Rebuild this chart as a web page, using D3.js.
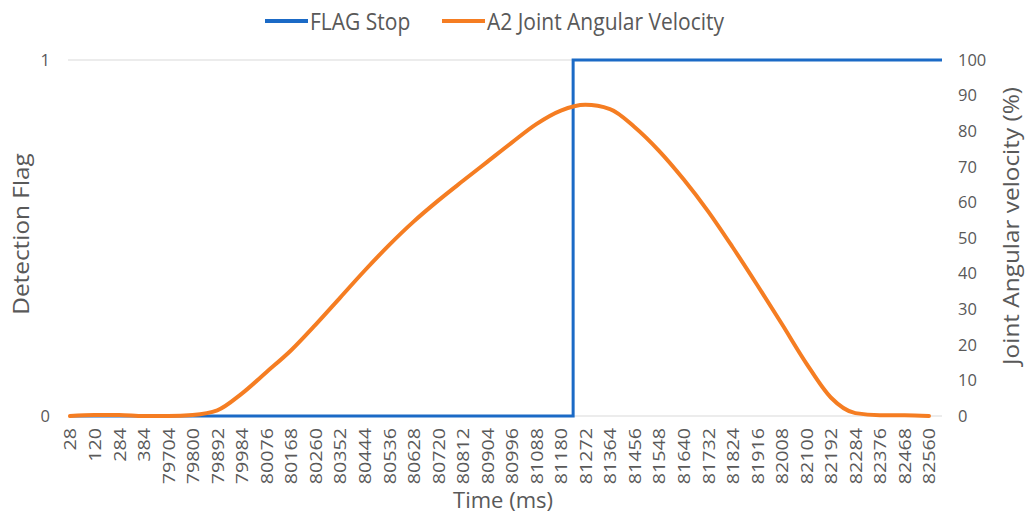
<!DOCTYPE html>
<html>
<head>
<meta charset="utf-8">
<script src="https://cdn.jsdelivr.net/npm/d3@7"></script>
<style>
  body { margin: 0; background: #fff; }
  svg text { font-family: "Open Sans", "DejaVu Sans", sans-serif; fill: #595959; }
</style>
</head>
<body>
<div id="chart"></div>
<script>
// category labels on the time axis (ms)
const times = ["28", "120", "284", "384", "79704", "79800", "79892", "79984", "80076", "80168",
    "80260", "80352", "80444", "80536", "80628", "80720", "80812", "80904", "80996", "81088",
    "81180", "81272", "81364", "81456", "81548", "81640", "81732", "81824", "81916", "82008",
    "82100", "82192", "82284", "82376", "82468", "82560"];

// detection flag (0/1) at each category
const flagStop = [0, 0, 0, 0, 0, 0, 0, 0, 0, 0,
    0, 0, 0, 0, 0, 0, 0, 0, 0, 0,
    0, 1, 1, 1, 1, 1, 1, 1, 1, 1,
    1, 1, 1, 1, 1, 1];

// A2 joint angular velocity (%) at each category
const velocity = [0, 0.3, 0.3, 0, 0, 0.3, 1.6, 6.3, 12.3, 18.4,
    25.6, 33.2, 40.8, 48.0, 54.6, 60.5, 66.0, 71.4, 76.8, 82.0,
    85.8, 87.4, 86.2, 81.2, 74.5, 66.5, 57.5, 47.4, 36.8, 25.9,
    14.8, 5.2, 0.8, 0.2, 0.2, 0];

const flagTicks = [0, 1];
const velTicks = d3.range(0, 101, 10);

const width = 1027, height = 518;
const margin = {top: 60, right: 85, bottom: 102, left: 68};
const blue = "#1b6ac6", orange = "#f57d22";
const stretch = 1.16; // the original text looks a bit taller than wide

const svg = d3.select("#chart")
    .append("svg")
    .attr("width", width)
    .attr("height", height);

// x is categorical, first label at 70, last at 929
const x = d3.scalePoint()
    .domain(times)
    .range([70, 929]);
const plotLeft = margin.left, plotRight = width - margin.right;

const yL = d3.scaleLinear().domain([0, 1]).range([416, 60]);
const yR = d3.scaleLinear().domain([0, 100]).range([416, 60]);

// gridline at 1 and baseline
svg.append("g")
    .selectAll("line")
    .data(flagTicks)
    .join("line")
    .attr("x1", plotLeft)
    .attr("x2", plotRight)
    .attr("y1", d => yL(d))
    .attr("y2", d => yL(d))
    .attr("stroke", "#d9d9d9")
    .attr("stroke-width", 1);

// left axis
const gL = svg.append("g")
    .attr("transform", `translate(${plotLeft},0)`)
    .call(d3.axisLeft(yL).tickValues(flagTicks).tickFormat(d3.format("d")).tickSize(0).tickPadding(18));
gL.select(".domain").remove();
gL.selectAll("text").style("font-size", "16.5px").style("font-family", null);

// right axis
const gR = svg.append("g")
    .attr("transform", `translate(${plotRight},0)`)
    .call(d3.axisRight(yR).tickValues(velTicks).tickSize(0).tickPadding(16));
gR.select(".domain").remove();
gR.selectAll("text").style("font-size", "16.5px").style("font-family", null);

// bottom axis, rotated labels
const gX = svg.append("g")
    .attr("transform", `translate(0,416)`)
    .call(d3.axisBottom(x).tickSize(0).tickPadding(0));
gX.select(".domain").remove();
gX.selectAll("text")
    .style("font-size", "17px")
    .style("font-family", null)
    .attr("text-anchor", "end")
    .attr("transform", `rotate(-90) scale(${stretch},1)`)
    .attr("x", -12 / stretch)
    .attr("y", 0)
    .attr("dy", "0.35em");

// flag line (step between categories)
const flagLine = d3.line()
    .x((d, i) => x(times[i]))
    .y(d => yL(d))
    .curve(d3.curveStep);
svg.append("path")
    .datum(flagStop)
    .attr("fill", "none")
    .attr("stroke", blue)
    .attr("stroke-width", 3)
    .attr("d", flagLine);

// extend the top of the flag to the plot edge
svg.append("line")
    .attr("x1", x(times[times.length - 1]))
    .attr("x2", plotRight)
    .attr("y1", yL(flagStop[flagStop.length - 1]))
    .attr("y2", yL(flagStop[flagStop.length - 1]))
    .attr("stroke", blue)
    .attr("stroke-width", 3);

// velocity line
const velLine = d3.line()
    .x((d, i) => x(times[i]))
    .y(d => yR(d))
    .curve(d3.curveMonotoneX);
svg.append("path")
    .datum(velocity)
    .attr("fill", "none")
    .attr("stroke", orange)
    .attr("stroke-width", 4)
    .attr("stroke-linecap", "round")
    .attr("d", velLine);

// axis titles
svg.append("text")
    .attr("text-anchor", "middle")
    .attr("transform", `translate(29,234) rotate(-90) scale(${stretch},1)`)
    .style("font-size", "21px")
    .text("Detection Flag");

svg.append("text")
    .attr("text-anchor", "middle")
    .attr("transform", `translate(1019,226) rotate(-90) scale(${stretch},1)`)
    .style("font-size", "21px")
    .text("Joint Angular velocity (%)");

svg.append("text")
    .attr("text-anchor", "middle")
    .attr("x", 503)
    .attr("y", 508)
    .style("font-size", "22px")
    .text("Time (ms)");

// legend
const legend = [
    {name: "FLAG Stop", color: blue, x: 265},
    {name: "A2 Joint Angular Velocity", color: orange, x: 442}
];
const lg = svg.append("g")
    .selectAll("g")
    .data(legend)
    .join("g")
    .attr("transform", d => `translate(${d.x},21)`);
lg.append("line")
    .attr("x1", 0).attr("x2", 43)
    .attr("stroke", d => d.color)
    .attr("stroke-width", 4);
lg.append("text")
    .attr("x", 45)
    .attr("dy", "0.35em")
    .attr("transform", `scale(1,${stretch})`)
    .style("font-size", "21px")
    .text(d => d.name);
</script>
</body>
</html>
